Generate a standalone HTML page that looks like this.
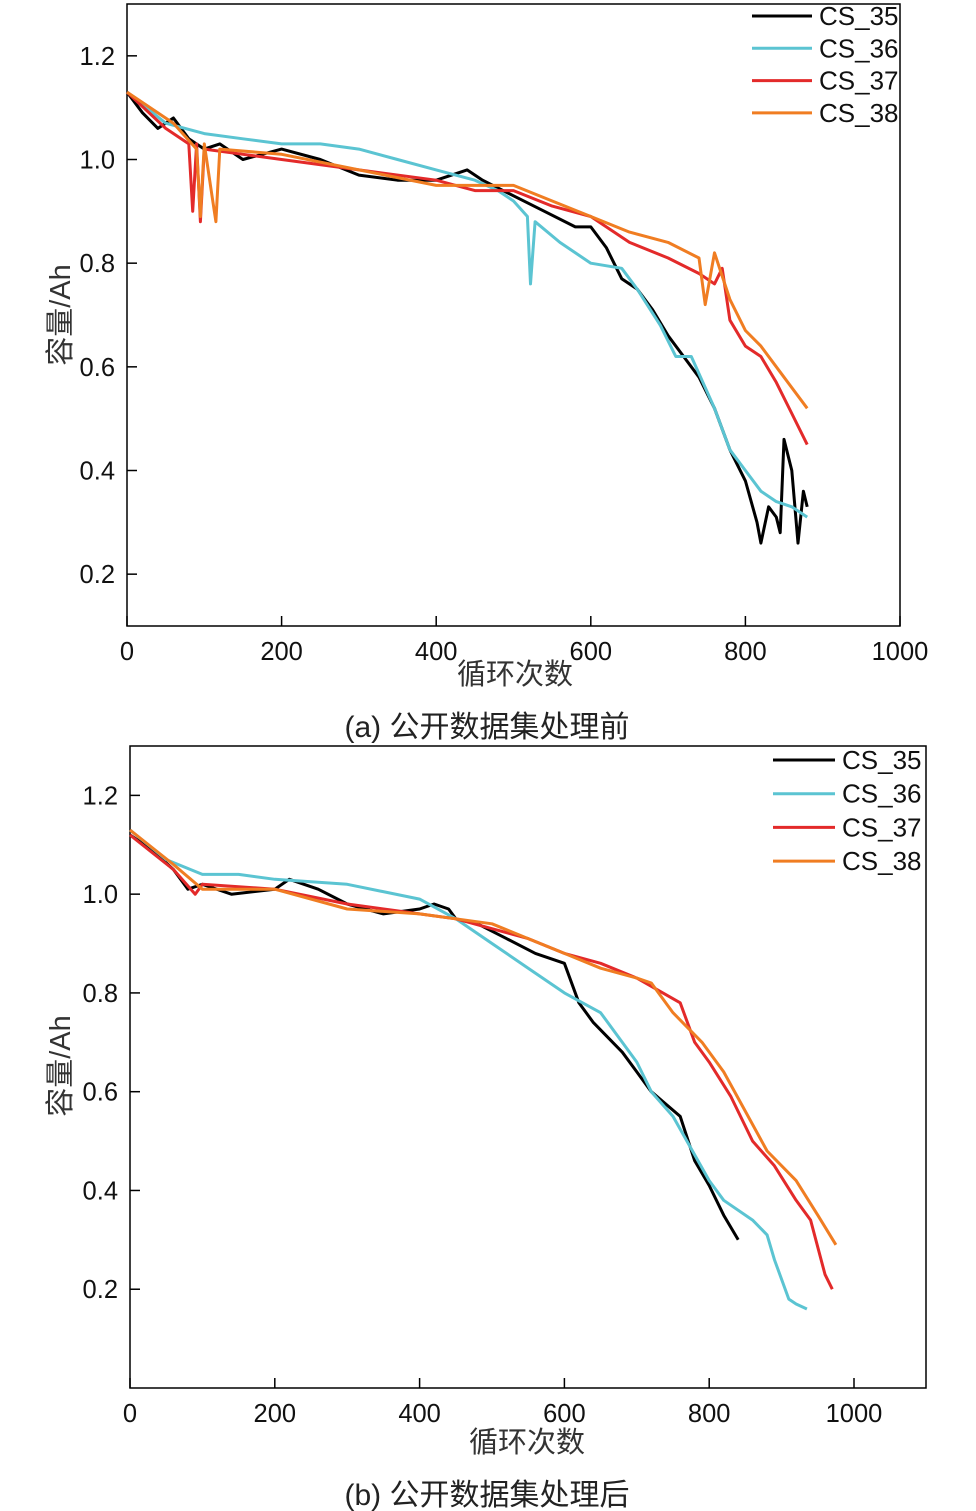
<!DOCTYPE html>
<html><head><meta charset="utf-8">
<style>
html,body{margin:0;padding:0;background:#fff;}
svg{display:block;font-family:"Liberation Sans","Noto Sans CJK SC",sans-serif;}
</style></head>
<body>
<svg id="chart" width="976" height="1511" viewBox="0 0 976 1511"></svg>
<script>
const seriesNames = ["CS_35","CS_36","CS_37","CS_38"];
const seriesColors = ["#000000","#5bc4d2","#e32a2a","#f07d22"];
const xTicks = [0,200,400,600,800,1000];
const yTicks = [0.2,0.4,0.6,0.8,1.0,1.2];

// Panel (a): before processing [cycle, capacity]
const a35 = [[0,1.13],[20,1.09],[40,1.06],[60,1.08],[80,1.04],[100,1.02],[120,1.03],[150,1.00],[200,1.02],[250,1.00],[300,0.97],[350,0.96],[400,0.96],[420,0.97],[440,0.98],[460,0.96],[500,0.93],[540,0.90],[580,0.87],[600,0.87],[620,0.83],[640,0.77],[660,0.75],[680,0.71],[700,0.66],[720,0.62],[740,0.58],[760,0.52],[780,0.44],[800,0.38],[815,0.30],[820,0.26],[830,0.33],[840,0.31],[845,0.28],[850,0.46],[860,0.40],[868,0.26],[875,0.36],[880,0.33]];
const a36 = [[0,1.13],[50,1.07],[100,1.05],[150,1.04],[200,1.03],[250,1.03],[300,1.02],[350,1.00],[400,0.98],[450,0.96],[480,0.94],[500,0.92],[518,0.89],[522,0.76],[528,0.88],[560,0.84],[600,0.80],[640,0.79],[660,0.75],[690,0.68],[710,0.62],[730,0.62],[760,0.52],[780,0.44],[800,0.40],[820,0.36],[840,0.34],[860,0.33],[880,0.31]];
const a37 = [[0,1.13],[50,1.06],[80,1.03],[85,0.90],[90,1.03],[95,0.88],[100,1.02],[150,1.01],[200,1.00],[300,0.98],[400,0.96],[450,0.94],[500,0.94],[550,0.91],[600,0.89],[650,0.84],[700,0.81],[740,0.78],[760,0.76],[770,0.79],[780,0.69],[800,0.64],[820,0.62],[840,0.57],[860,0.51],[880,0.45]];
const a38 = [[0,1.13],[60,1.07],[90,1.02],[95,0.89],[100,1.03],[110,0.93],[115,0.88],[120,1.02],[200,1.01],[300,0.98],[400,0.95],[500,0.95],[550,0.92],[600,0.89],[650,0.86],[700,0.84],[740,0.81],[748,0.72],[760,0.82],[780,0.73],[800,0.67],[820,0.64],[850,0.58],[880,0.52]];

// Panel (b): after processing
const b35 = [[0,1.12],[30,1.09],[60,1.05],[80,1.01],[100,1.02],[140,1.00],[200,1.01],[220,1.03],[260,1.01],[300,0.98],[350,0.96],[400,0.97],[420,0.98],[440,0.97],[450,0.95],[480,0.94],[520,0.91],[560,0.88],[600,0.86],[620,0.78],[640,0.74],[680,0.68],[700,0.64],[720,0.60],[760,0.55],[780,0.46],[800,0.41],[820,0.35],[840,0.30]];
const b36 = [[0,1.13],[50,1.07],[100,1.04],[150,1.04],[200,1.03],[300,1.02],[400,0.99],[450,0.95],[500,0.90],[550,0.85],[600,0.80],[650,0.76],[700,0.66],[720,0.60],[750,0.55],[800,0.42],[820,0.38],[860,0.34],[880,0.31],[890,0.26],[910,0.18],[920,0.17],[935,0.16]];
const b37 = [[0,1.12],[60,1.05],[90,1.00],[100,1.02],[200,1.01],[300,0.98],[400,0.96],[450,0.95],[500,0.93],[550,0.91],[600,0.88],[650,0.86],[700,0.83],[760,0.78],[780,0.70],[800,0.66],[830,0.59],[860,0.50],[890,0.45],[920,0.38],[940,0.34],[960,0.23],[970,0.20]];
const b38 = [[0,1.13],[60,1.06],[100,1.01],[200,1.01],[300,0.97],[400,0.96],[500,0.94],[550,0.91],[600,0.88],[650,0.85],[700,0.83],[720,0.82],[750,0.76],[790,0.70],[820,0.64],[850,0.56],[880,0.48],[920,0.42],[950,0.35],[975,0.29]];

const svg = document.getElementById('chart');
const NS = 'http://www.w3.org/2000/svg';
function mk(tag, attrs, parent){const e=document.createElementNS(NS,tag);for(const k in attrs)e.setAttribute(k,attrs[k]);parent.appendChild(e);return e;}

function panel(cfg){
  const g = mk('g',{},svg);
  
  
  const xs = v => cfg.x0 + (v/1000)*(cfg.x1-cfg.x0);
  const ys = v => cfg.yBottom - (v - cfg.yMin)/(cfg.yMax-cfg.yMin)*(cfg.yBottom-cfg.yTop);
  const box = mk('rect',{x:cfg.x0,y:cfg.yTop,width:cfg.boxR-cfg.x0,height:cfg.yBottom-cfg.yTop,fill:'none',stroke:'#000','stroke-width':1.5},g);
  
  
  xTicks.forEach(t=>{
    const x=xs(t);
    const tk=mk('line',{x1:x,x2:x,y1:cfg.yBottom,y2:cfg.yBottom-10,stroke:'#000','stroke-width':1.5},g);
    
    
    const tx=mk('text',{x:x,y:cfg.yBottom+34,'font-size':25.5,'text-anchor':'middle',fill:'#111'},g);
    tx.textContent=t;
    
    
  });
  yTicks.forEach(t=>{
    const y=ys(t);
    const tk=mk('line',{x1:cfg.x0,x2:cfg.x0+10,y1:y,y2:y,stroke:'#000','stroke-width':1.5},g);
    
    
    const tx=mk('text',{x:cfg.x0-12,y:y+9,'font-size':25.5,'text-anchor':'end',fill:'#111'},g);
    tx.textContent=t.toFixed(1);
    
    
  });
  cfg.data.forEach((d,i)=>{
    const p=mk('polyline',{points:d.map(q=>xs(q[0]).toFixed(1)+','+ys(q[1]).toFixed(1)).join(' '),fill:'none',stroke:seriesColors[i],'stroke-width':3,'stroke-linejoin':'round'},g);
    
    
  });
  seriesNames.forEach((n,i)=>{
    const y=cfg.legY+i*cfg.legStep;
    const l=mk('line',{x1:cfg.legX,x2:cfg.legX+cfg.legLen,y1:y,y2:y,stroke:seriesColors[i],'stroke-width':3},g);
    
    
    const t=mk('text',{x:cfg.legX+cfg.legLen+7,y:y+9,'font-size':26,fill:'#111'},g);
    t.textContent=n;
    
    
  });
  const xl=mk('text',{x:cfg.xLabelX,y:cfg.yBottom+cfg.xLabelDy,'font-size':29,'text-anchor':'middle',fill:'#333'},g);
  xl.textContent='循环次数';
  
  
  const cy=cfg.yLabelY;
  const yl=mk('text',{x:cfg.yLabelX,y:cy,'font-size':29,'text-anchor':'middle',fill:'#333',transform:`rotate(-90 ${cfg.yLabelX} ${cy})`},g);
  yl.textContent='容量/Ah';
  
  
  const cap=mk('text',{x:487,y:cfg.capY,'font-size':30,'text-anchor':'middle',fill:'#222'},g);
  cap.textContent=cfg.caption;
  
  
}

panel({name:'panel-a',x0:127,x1:900,boxR:900,yTop:4,yBottom:626,yMin:0.1,yMax:1.3,data:[a35,a36,a37,a38],legX:752,legLen:60,legY:16,legStep:32.3,xLabelX:515,xLabelDy:58,yLabelX:70,yLabelY:315,capY:737,caption:'(a) 公开数据集处理前'});
panel({name:'panel-b',x0:130,x1:854,boxR:926,yTop:746,yBottom:1388,yMin:0,yMax:1.3,data:[b35,b36,b37,b38],legX:773,legLen:62,legY:760,legStep:33.7,xLabelX:527,xLabelDy:64,yLabelX:70,yLabelY:1066,capY:1505,caption:'(b) 公开数据集处理后'});
</script>
</body></html>
